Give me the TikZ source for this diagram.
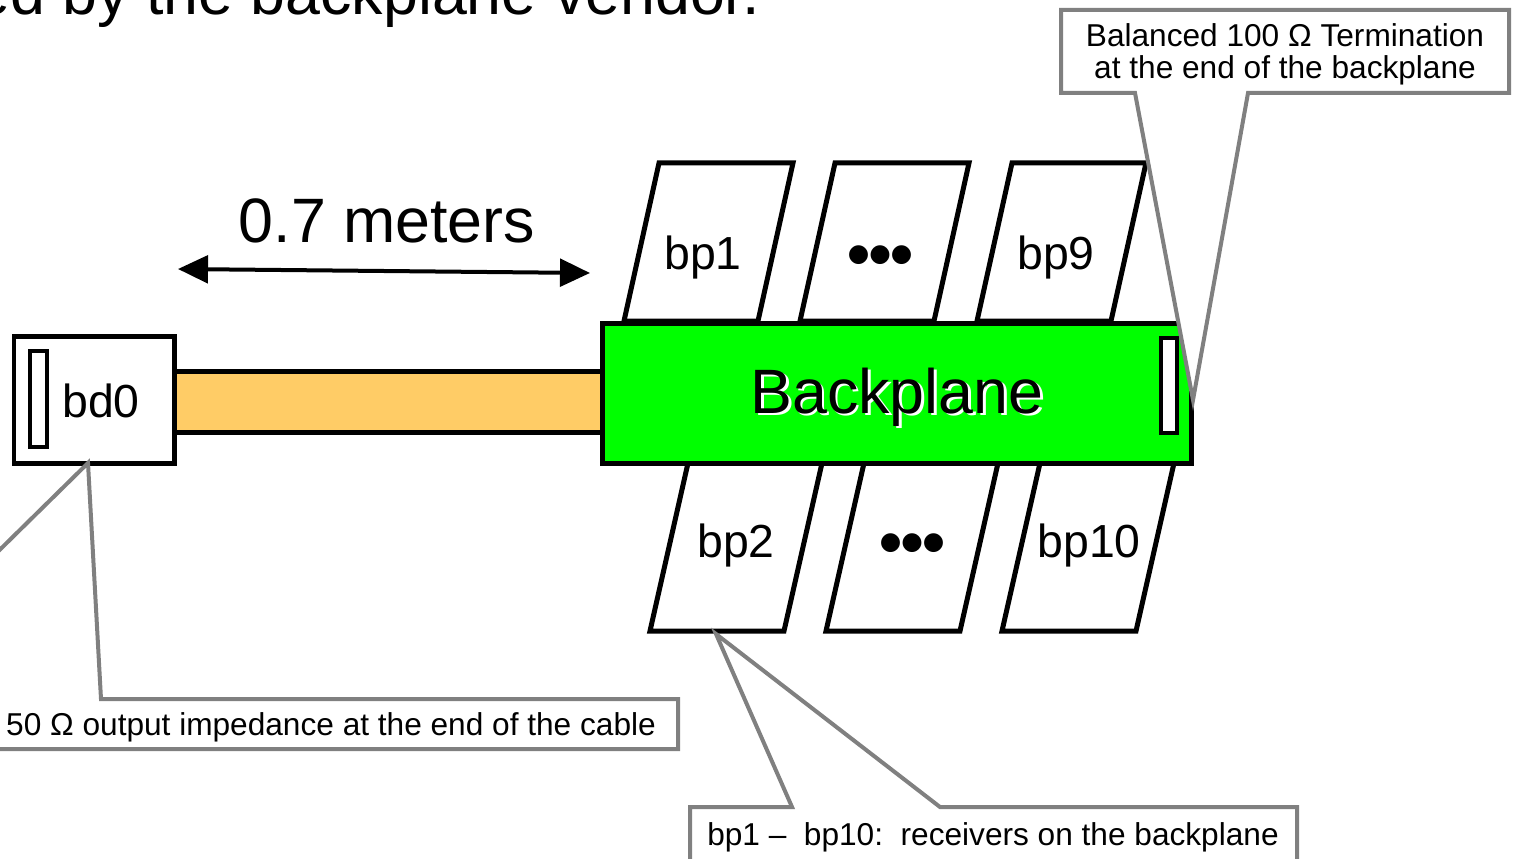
\documentclass[tikz,border=0pt]{standalone}
\usepackage{fontspec}
\setmainfont{Liberation Sans}
\newfontfamily\dotfont{DejaVu Sans}
\usetikzlibrary{arrows.meta}
\definecolor{bpgreen}{RGB}{0,255,0}
\definecolor{cable}{RGB}{255,204,102}
\definecolor{notegray}{RGB}{128,128,128}
\def\rcvr(#1,#2)(#3,#4){\draw[line width=1mm, fill=white] (#1,#2) -- (#3,#4) -- ++(134,0) -- ++(#1-#3,#2-#4) -- cycle;}

\begin{document}
\begin{tikzpicture}[x=0.02cm, y=-0.02cm,
		big text/.style={font=\fontsize{35.7}{40}\selectfont, inner sep=0},
		rx text/.style={font=\fontsize{26.4}{30}\selectfont, inner sep=0},
		rx dots/.style={font=\dotfont\fontsize{14}{16}\selectfont, inner sep=0},
		note box/.style={line width=0.8mm, draw=notegray, fill=white, line join=miter},
		note text/.style={font=\fontsize{18}{18.1}\selectfont, inner sep=0, align=center}]
			%%%%% START %%%%%
			\useasboundingbox (0,0) rectangle (1513,858);
			\clip (0,0) rectangle (1513,858);
			
			\node[big text, anchor=base west] (vendor) at (-25,15) {ed by the backplane vendor.};
			
			% cable length
			\coordinate (lenL) at (178,269);
			\coordinate (lenR) at (590,273);
			\draw[line width=0.8mm, {Triangle[length=0.6cm,width=0.55cm]}-{Triangle[length=0.6cm,width=0.55cm]}] (lenL) -- (lenR);
			\node[big text, anchor=base] (len) at (387,242) {0.7 meters};
			
			\draw[line width=1mm, fill=cable] (174,371) rectangle (602,432);
			
			% receivers
			\rcvr(624,321)(659,163)
			\rcvr(800,321)(835,163)
			\rcvr(977,321)(1012,163)
			\rcvr(650,631)(688,463)
			\rcvr(826,631)(864,463)
			\rcvr(1002,631)(1040,463)
			
			\draw[line width=1mm, fill=bpgreen] (602,323) rectangle (1191,463);
			\draw[line width=0.8mm, fill=white] (1161,338) rectangle (1177,433);
			\node[big text, anchor=base, white] (bpshadow) at (899.5,415.5) {Backplane};
			\node[big text, anchor=base] (bp) at (897,413) {Backplane};
			
			\node[rx text, anchor=base] (bp1) at (703,269) {bp1};
			\node[rx dots] (dotsT) at (880,255) {●●●};
			\node[rx text, anchor=base] (bp9) at (1056,269) {bp9};
			\node[rx text, anchor=base] (bp2) at (736,557) {bp2};
			\node[rx dots] (dotsB) at (912,543) {●●●};
			\node[rx text, anchor=base] (bp10) at (1089,557) {bp10};
			
			% driver
			\draw[line width=1mm, fill=white] (14,336) rectangle (174,463);
			\draw[line width=0.8mm, fill=white] (30,351) rectangle (47,447);
			\node[rx text, anchor=base] (bd0) at (101,417) {bd0};
			
			% callouts
			\coordinate (termtip) at (1193,400);
			\coordinate (bd0tip) at (88,463);
			\coordinate (rxtip) at (716,634);
			
			\draw[note box] (1135,93) -- (termtip) -- (1248,93) -- (1509,93) -- (1509,10) -- (1061,10) -- (1061,93) -- cycle;
			\node[note text] (termnote) at (1285,54) {Balanced 100 Ω Termination\\at the end of the backplane};
			
			\draw[note box] (101,699) -- (bd0tip) -- (-152,699) -- (-200,699) -- (-200,749) -- (678,749) -- (678,699) -- cycle;
			\node[note text, anchor=base] (bd0note) at (331,735) {50 Ω output impedance at the end of the cable};
			
			\draw[note box] (792,807) -- (rxtip) -- (940,807) -- (1297,807) -- (1297,880) -- (690,880) -- (690,807) -- cycle;
			\node[note text, anchor=base] (rxnote) at (993,845) {bp1 –\ \ bp10:\ \ receivers on the backplane};
			
			%%%%% END %%%%%
		\end{tikzpicture}
\end{document}
